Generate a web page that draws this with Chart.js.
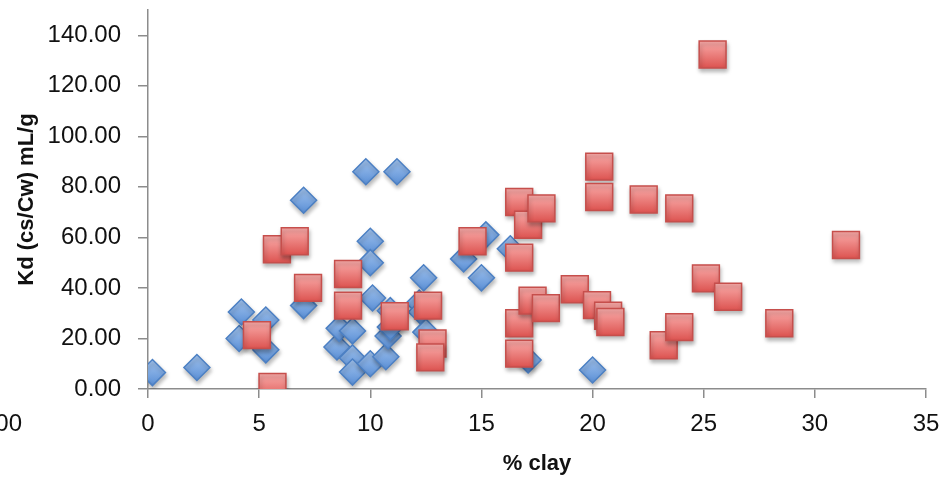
<!DOCTYPE html>
<html>
<head>
<meta charset="utf-8">
<script src="https://cdn.jsdelivr.net/npm/chart.js@4.4.0/dist/chart.umd.min.js"></script>
<style>
  html, body { margin: 0; padding: 0; background: #fff; }
  #wrap { width: 943px; height: 479px; }
</style>
</head>
<body>
<div id="wrap"><canvas id="kd-chart" width="943" height="479"></canvas></div>
<script>
// % clay vs Kd, two series
const blueX = [0.2, 2.2, 4.1, 4.2, 5.3, 5.3, 7.0, 7.0, 8.5, 8.6, 9.2, 9.2, 9.2, 9.8, 10.0, 10.0, 10.1, 10.0, 10.7, 10.8, 10.9, 10.9, 11.2, 12.2, 12.3, 12.4, 12.5, 14.2, 15.0, 15.2, 16.3, 17.1, 20.0];
const blueY = [6.5, 8.5, 20, 30.5, 27.3, 15.5, 74.7, 33, 16.6, 24, 23, 12.3, 6.7, 86, 58.5, 50, 36, 10, 12.8, 21, 24.5, 31, 86, 34, 30.5, 44, 22.5, 51.5, 44, 61, 55.5, 11.5, 7.5];

const redX = [4.9, 5.6, 5.8, 6.6, 7.2, 9.0, 9.0, 11.1, 12.6, 12.8, 12.7, 14.6, 16.7, 17.1, 17.7, 16.7, 16.7, 16.7, 17.3, 17.9, 19.2, 20.3, 20.3, 20.2, 20.7, 20.8, 22.3, 23.9, 23.2, 23.9, 25.4, 25.1, 26.1, 28.4, 31.4];
const redY = [21.3, 0.8, 55.3, 58.5, 40, 45.5, 33, 28.8, 33, 18, 12.5, 58.5, 74, 65, 71.5, 52, 26, 14, 35, 32, 39.5, 88, 76, 33.2, 29, 26.5, 75, 71.5, 17.3, 24.5, 132.4, 43.8, 36.5, 26, 57];

const xTicks = [0, 5, 10, 15, 20, 25, 30, 35];
const yTicks = [0, 20, 40, 60, 80, 100, 120, 140];

const toPoints = (xs, ys) => xs.map((x, i) => ({ x: x, y: ys[i] }));

// little vertical gradient per marker, like the Excel fill
function markerFill(top, bottom, half) {
  return (ctx) => {
    const chart = ctx.chart;
    const ys = chart.scales && chart.scales.y;
    if (!ctx.parsed || !ys) return bottom;
    const py = ys.getPixelForValue(ctx.parsed.y);
    if (!isFinite(py)) return bottom;
    const g = chart.ctx.createLinearGradient(0, py - half, 0, py + half);
    g.addColorStop(0, top);
    g.addColorStop(1, bottom);
    return g;
  };
}

const axisGrey = '#8c8c8c';
const textFont = 'Liberation Sans, Arial, sans-serif';

const markerShadow = {
  id: 'markerShadow',
  beforeDatasetsDraw(chart) {
    const c = chart.ctx;
    c.save();
    c.shadowColor = 'rgba(0,0,0,0.28)';
    c.shadowBlur = 4;
    c.shadowOffsetX = 1;
    c.shadowOffsetY = 3;
  },
  afterDatasetsDraw(chart) {
    chart.ctx.restore();
  }
};

// stray clipped label at the far left, as in the picture
const leftStub = {
  id: 'leftStub',
  afterDraw(chart) {
    const c = chart.ctx;
    c.save();
    c.font = '24px ' + textFont;
    c.fillStyle = '#111';
    c.textAlign = 'right';
    c.textBaseline = 'middle';
    c.fillText('00', 22, 424);
    c.restore();
  }
};

const ctx = document.getElementById('kd-chart').getContext('2d');
new Chart(ctx, {
  type: 'scatter',
  data: {
    datasets: [
      {
        label: 'Series 1',
        data: toPoints(blueX, blueY),
        order: 1,
        pointStyle: 'rectRot',
        pointRadius: 13,
        pointHoverRadius: 13,
        backgroundColor: markerFill('#a3c4ee', '#5a8fd6', 13),
        borderColor: '#4c80c4',
        borderWidth: 1.5
      },
      {
        label: 'Series 2',
        data: toPoints(redX, redY),
        order: 0,
        pointStyle: 'rect',
        pointRadius: 19,
        pointHoverRadius: 19,
        backgroundColor: markerFill('#f9aaa8', '#dd5552', 13),
        borderColor: '#c64f4c',
        borderWidth: 1.5
      }
    ]
  },
  options: {
    responsive: false,
    animation: false,
    devicePixelRatio: 1,
    layout: { autoPadding: false, padding: { top: 10, right: 17, left: 0, bottom: 0 } },
    plugins: {
      legend: { display: false },
      tooltip: { enabled: false }
    },
    scales: {
      x: {
        type: 'linear',
        min: 0,
        max: 35,
        afterBuildTicks: (s) => { s.ticks = xTicks.map(v => ({ value: v })); },
        afterFit: (s) => { s.height = 90; s.paddingLeft = 0; s.paddingRight = 0; },
        ticks: {
          color: '#111',
          font: { family: textFont, size: 24 },
          padding: 12,
          maxRotation: 0,
          callback: (v) => String(v)
        },
        grid: { drawOnChartArea: false, drawTicks: true, tickLength: 9, color: axisGrey, lineWidth: 1.5 },
        border: { display: true, color: axisGrey, width: 1.5 },
        title: {
          display: true,
          text: '% clay',
          color: '#111',
          font: { family: textFont, size: 22, weight: 'bold' },
          padding: { top: 0, bottom: 2 }
        }
      },
      y: {
        type: 'linear',
        min: 0,
        max: 150,
        afterBuildTicks: (s) => { s.ticks = yTicks.map(v => ({ value: v })); },
        afterFit: (s) => { s.width = 148; s.paddingTop = 0; s.paddingBottom = 0; },
        ticks: {
          color: '#111',
          font: { family: textFont, size: 24 },
          padding: 17,
          callback: (v) => Number(v).toFixed(2)
        },
        grid: { drawOnChartArea: false, drawTicks: true, tickLength: 10, color: axisGrey, lineWidth: 1.5 },
        border: { display: true, color: axisGrey, width: 1.5 },
        title: {
          display: true,
          text: 'Kd (cs/Cw) mL/g',
          color: '#111',
          font: { family: textFont, size: 22, weight: 'bold' },
          padding: { top: 14, bottom: 0 }
        }
      }
    }
  },
  plugins: [markerShadow, leftStub]
});
</script>
</body>
</html>
